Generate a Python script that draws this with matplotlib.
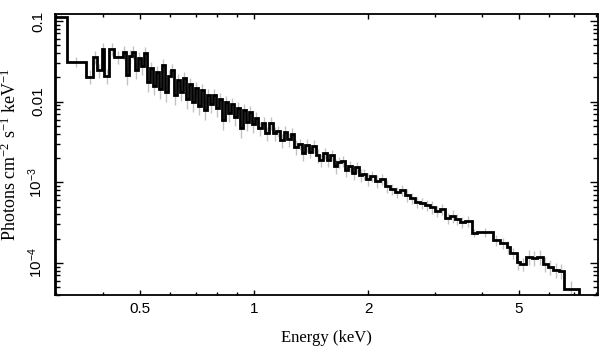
import matplotlib
matplotlib.use("Agg")
import matplotlib.pyplot as plt
import numpy as np
from matplotlib.ticker import FixedLocator, FixedFormatter, LogLocator, NullFormatter

# ---------------- data ----------------
energy_edges = [
    0.298, 0.320, 0.360, 0.376, 0.384, 0.396, 0.401, 0.4145, 0.4265, 0.4497,
    0.4580, 0.4664, 0.4749, 0.4837, 0.4926, 0.5016, 0.5108, 0.5202, 0.5298, 0.5395,
    0.5494, 0.5595, 0.5698, 0.5803, 0.5910, 0.6018, 0.6129, 0.6242, 0.6356, 0.6473,
    0.6592, 0.6714, 0.6837, 0.6963, 0.7091, 0.7221, 0.7354, 0.7489, 0.7627, 0.7767,
    0.7910, 0.8055, 0.8203, 0.8354, 0.8508, 0.8664, 0.8824, 0.8986, 0.9151, 0.9320,
    0.9491, 0.9666, 0.9843, 1.0025,
    1.025, 1.048, 1.071, 1.095, 1.119, 1.144, 1.169, 1.195, 1.221, 1.248,
    1.276, 1.304, 1.333, 1.362, 1.392, 1.423, 1.454, 1.486, 1.519, 1.553,
    1.587, 1.622, 1.658, 1.694, 1.732, 1.770, 1.809, 1.849, 1.890, 1.931,
    1.974, 2.018,
    2.08, 2.145, 2.21, 2.28, 2.35, 2.42, 2.50, 2.57, 2.65, 2.74,
    2.82, 2.91, 3.00, 3.09, 3.19, 3.29, 3.39, 3.49, 3.60, 3.754,
    3.87, 4.264, 4.452, 4.643, 4.729, 4.934, 5.025, 5.212, 5.406, 5.572,
    5.779, 5.957, 6.142, 6.368, 6.565, 7.19,
]

flux = [
    0.113, 0.0313, 0.0204, 0.0355, 0.0247, 0.0446, 0.021, 0.0446, 0.0355,
    0.0413, 0.02142, 0.03683, 0.0413, 0.02471, 0.03479, 0.02770, 0.04013, 0.01754, 0.02616,
    0.01565, 0.02333, 0.01437, 0.02850, 0.01319, 0.02082, 0.02471, 0.01211, 0.01857, 0.01319,
    0.01966, 0.01080, 0.01657, 0.00992, 0.01478, 0.00885, 0.01396, 0.00789, 0.01211, 0.00937,
    0.01211, 0.00835, 0.01080, 0.00593, 0.00992, 0.00724, 0.00937, 0.00646, 0.00835, 0.00472,
    0.00789, 0.00560, 0.00745, 0.00529,
    6.28e-3, 4.72e-3, 5.45e-3, 4.09e-3, 5.45e-3, 4.09e-3, 4.33e-3, 3.35e-3, 4.21e-3, 3.45e-3,
    3.98e-3, 2.75e-3, 2.99e-3, 2.31e-3, 2.91e-3, 2.38e-3, 2.83e-3, 2.18e-3, 1.89e-3, 2.31e-3,
    1.89e-3, 2.18e-3, 1.60e-3, 1.79e-3, 1.84e-3, 1.42e-3, 1.60e-3, 1.31e-3, 1.55e-3, 1.235e-3,
    1.27e-3, 1.10e-3,
    1.200e-3, 1.041e-3, 1.102e-3, 9.02e-4, 8.28e-4, 7.60e-4, 8.05e-4, 6.98e-4, 6.41e-4, 5.72e-4,
    5.56e-4, 5.25e-4, 4.96e-4, 4.42e-4, 4.68e-4, 3.62e-4, 3.83e-4, 3.52e-4, 3.23e-4, 3.32e-4,
    2.36e-4, 2.39e-4, 1.93e-4, 1.77e-4, 1.58e-4, 1.33e-4, 1.03e-4, 9.75e-5, 1.19e-4, 1.16e-4,
    1.19e-4, 9.75e-5, 8.95e-5, 8.2e-5, 7.98e-5, 4.78e-5,
]

rel_err = [
    0.06, 0.15, 0.2, 0.18, 0.2, 0.18, 0.22, 0.18, 0.18,
    0.2, 0.25, 0.2, 0.18, 0.22, 0.2, 0.22, 0.18, 0.25, 0.2,
    0.22, 0.2, 0.24, 0.18, 0.25, 0.2, 0.2, 0.24, 0.2, 0.22,
    0.2, 0.24, 0.2, 0.25, 0.2, 0.22, 0.2, 0.24, 0.2, 0.22,
    0.2, 0.22, 0.2, 0.25, 0.2, 0.22, 0.2, 0.22, 0.2, 0.25,
    0.2, 0.22, 0.2, 0.22,
    0.18, 0.2, 0.18, 0.2, 0.18, 0.2, 0.16, 0.2, 0.18, 0.2,
    0.18, 0.2, 0.16, 0.2, 0.18, 0.16, 0.18, 0.2, 0.18, 0.16,
    0.18, 0.16, 0.2, 0.16, 0.16, 0.18, 0.16, 0.18, 0.16, 0.18,
    0.16, 0.18,
    0.15, 0.18, 0.15, 0.18, 0.16, 0.15, 0.16, 0.18, 0.15, 0.16,
    0.15, 0.16, 0.18, 0.16, 0.15, 0.16, 0.18, 0.15, 0.16, 0.15,
    0.12, 0.12, 0.15, 0.16, 0.18, 0.16, 0.2, 0.18, 0.2, 0.2,
    0.2, 0.22, 0.22, 0.2, 0.2, 0.25,
]

x_major_ticks = [0.5, 1, 2, 5]
x_tick_labels = ["0.5", "1", "2", "5"]
x_minor_ticks = [0.3, 0.4, 0.6, 0.7, 0.8, 0.9, 3, 4, 6, 7, 8]
y_major_ticks = [1e-4, 1e-3, 1e-2, 1e-1]
y_tick_labels = [r"$\mathregular{10^{-4}}$", r"$\mathregular{10^{-3}}$", "0.01", "0.1"]

# ---------------- plot ----------------
plt.rcParams["font.family"] = ["Liberation Sans", "DejaVu Sans"]

fig = plt.figure(figsize=(6.08, 3.57), dpi=100)
ax = fig.add_axes([55 / 608, 62 / 357, 543 / 608, 281 / 357])

edges = np.array(energy_edges)
vals = np.array(flux)
errs = vals * np.array(rel_err)
centers = np.sqrt(edges[:-1] * edges[1:])

ax.errorbar(centers, vals, yerr=errs, fmt="none", ecolor="#c2c2c2",
            elinewidth=1.0, zorder=1)
ax.stairs(vals, edges, baseline=1e-7, color="black", lw=2.0, zorder=2)

ax.set_xscale("log")
ax.set_yscale("log")
ax.set_xlim(0.298, 8.08)
ax.set_ylim(4.0e-5, 0.122)

ax.xaxis.set_major_locator(FixedLocator(x_major_ticks))
ax.xaxis.set_major_formatter(FixedFormatter(x_tick_labels))
ax.xaxis.set_minor_locator(FixedLocator(x_minor_ticks))
ax.xaxis.set_minor_formatter(NullFormatter())
ax.yaxis.set_major_locator(FixedLocator(y_major_ticks))
ax.yaxis.set_major_formatter(FixedFormatter(y_tick_labels))
ax.yaxis.set_minor_locator(LogLocator(base=10, subs=np.arange(2, 10), numticks=20))
ax.yaxis.set_minor_formatter(NullFormatter())

ax.tick_params(which="both", direction="in", top=True, right=True, width=1.0,
               labelsize=11, colors="black")
ax.tick_params(axis="x", which="major", length=3.8, pad=5)
ax.tick_params(axis="x", which="minor", length=2.3)
ax.tick_params(axis="y", which="major", length=6.0, pad=7)
ax.tick_params(axis="y", which="minor", length=3.6)
for t in ax.get_yticklabels():
    t.set_rotation(90)
    t.set_va("center")

for s in ax.spines.values():
    s.set_linewidth(1.3)

ax.set_xlabel("Energy (keV)", family="Liberation Serif", fontsize=12, labelpad=10)
ax.set_ylabel(r"Photons cm$\mathregular{^{-2}}$ s$\mathregular{^{-1}}$ keV$\mathregular{^{-1}}$",
              family="Liberation Serif", fontsize=13, labelpad=5)

fig.savefig("out.png", dpi=100)
